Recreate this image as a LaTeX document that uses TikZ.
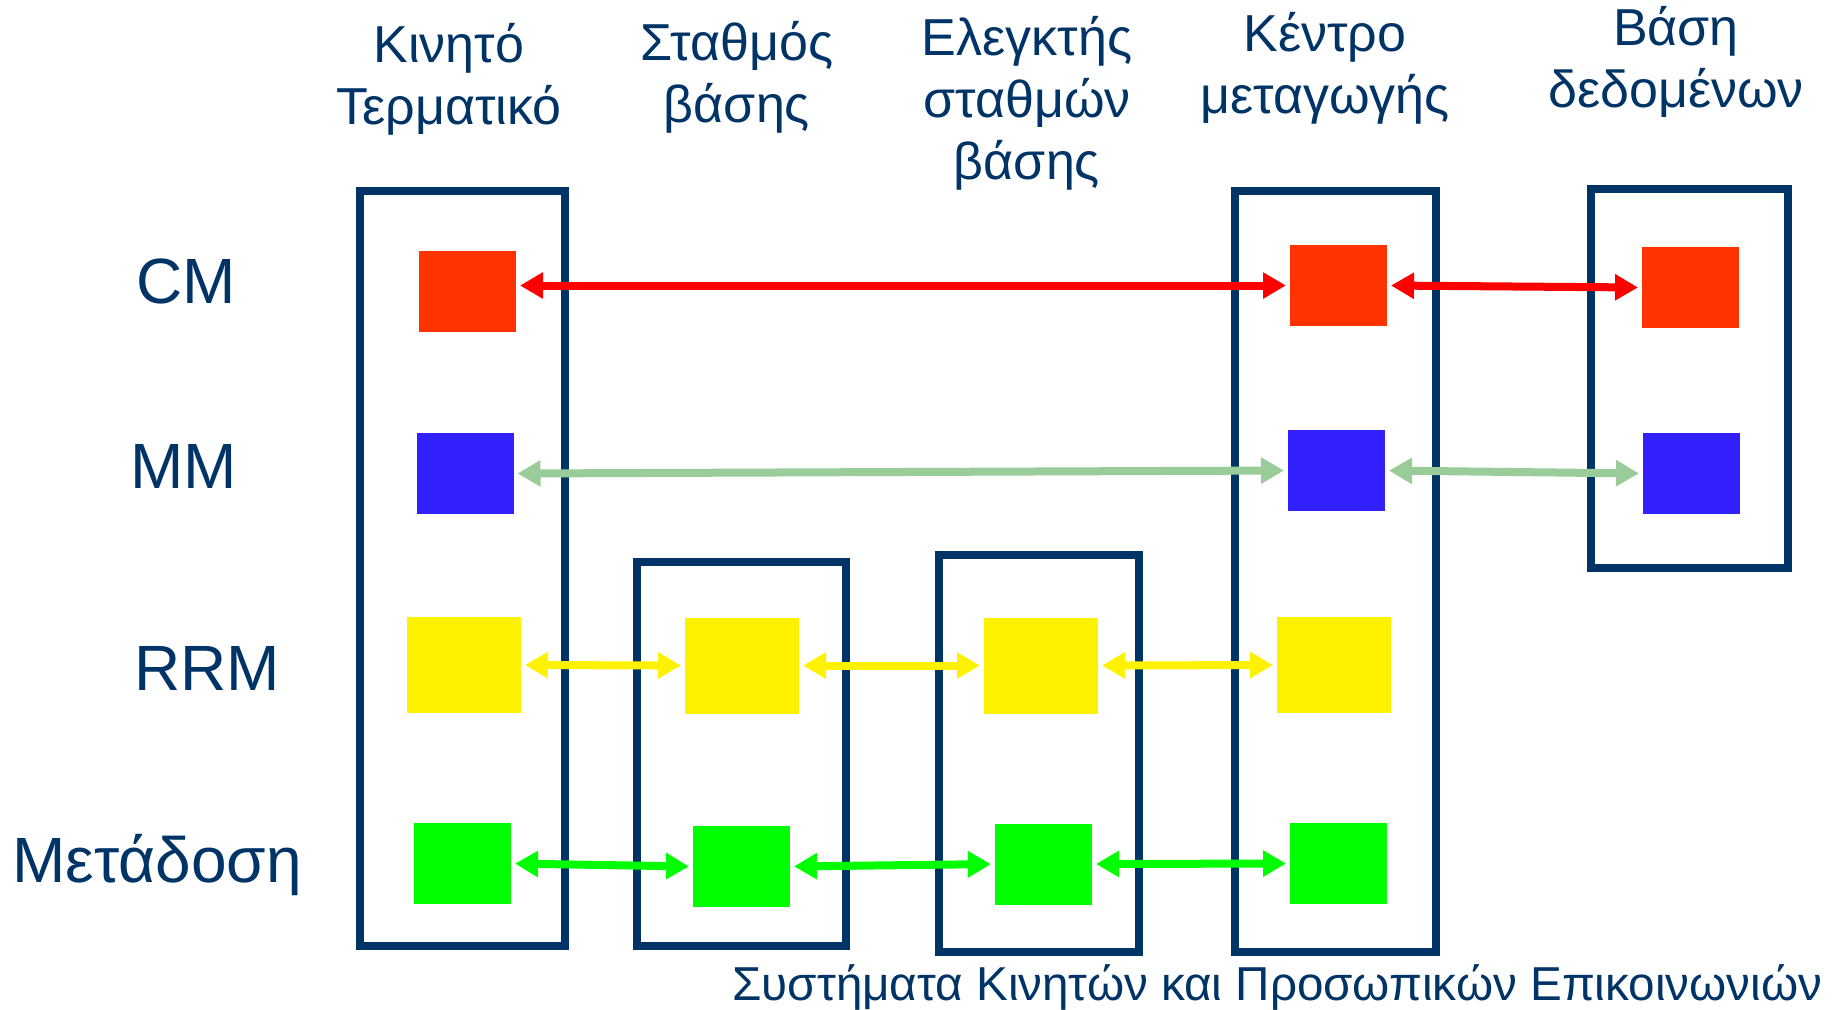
\documentclass[tikz,border=0pt]{standalone}
\usepackage{fontspec}
\setmainfont{Liberation Sans}
\usetikzlibrary{arrows.meta}
\definecolor{navy}{RGB}{0,51,102}
\definecolor{cmred}{RGB}{255,51,0}
\definecolor{mmblue}{RGB}{51,32,255}
\definecolor{mmarrow}{RGB}{153,204,153}
\tikzset{
	blk/.style={inner sep=0pt, outer sep=0pt, minimum width=48.5pt, minimum height=40.5pt},
	blkY/.style={blk, minimum width=57pt, minimum height=48pt, fill=yellow},
	frame/.style={draw=navy, line width=4pt},
	lnk/.style={<->, line width=4pt, shorten <=2pt, shorten >=2pt},
	head/.style={align=center, anchor=north, inner sep=0pt, font=\fontsize{26}{31}\selectfont},
	rowlbl/.style={anchor=base west, inner sep=0pt, font=\fontsize{32}{38}\selectfont}
}
\begin{document}
\begin{tikzpicture}[x=0.5pt, y=-0.5pt, text=navy, >={Triangle[length=11.5pt,width=12.5pt]}]
	\useasboundingbox (0,0) rectangle (1839,1009);
	\draw[frame] (360,191) rectangle (565,946);
	\draw[frame] (637,562) rectangle (846,946);
	\draw[frame] (939,555) rectangle (1139,952);
	\draw[frame] (1235,191) rectangle (1436,952);
	\draw[frame] (1591,189) rectangle (1788,568);
	\path
	(467.5,291.5) node[blk, fill=cmred] (msR) {}		(465,473.5) node[blk, fill=mmblue] (msB) {}
	(464,665) node[blkY] (msY) {}						(462.5,863.5) node[blk, fill=green] (msG) {}
	(742,665.5) node[blkY] (bsY) {}					(741.5,866.5) node[blk, fill=green] (bsG) {}
	(1041,665.5) node[blkY] (bscY) {}					(1043.5,864) node[blk, fill=green] (bscG) {}
	(1338.5,285.5) node[blk, fill=cmred] (mscR) {}	(1336.5,470.5) node[blk, fill=mmblue] (mscB) {}
	(1334,665) node[blkY] (mscY) {}					(1338.5,863.5) node[blk, fill=green] (mscG) {}
	(1690.5,287.5) node[blk, fill=cmred] (dbR) {}		(1691.5,473.5) node[blk, fill=mmblue] (dbB) {}
	;
	\draw[lnk, red] (msR.east |- mscR.west) -- (mscR.west);
	\draw[lnk, red] (mscR.east) -- (dbR.west);
	\draw[lnk, mmarrow] (msB.east) -- (mscB.west);
	\draw[lnk, mmarrow] (mscB.east) -- (dbB.west);
	\draw[lnk, yellow] (msY.east) -- (bsY.west);
	\draw[lnk, yellow] (bsY.east) -- (bscY.west);
	\draw[lnk, yellow] (bscY.east) -- (mscY.west);
	\draw[lnk, green] (msG.east) -- (bsG.west);
	\draw[lnk, green] (bsG.east) -- (bscG.west);
	\draw[lnk, green] (bscG.east) -- (mscG.west);
	\path
	(449,23) node[head] (hMS) {Κινητό\\Τερματικό}
	(737,21) node[head] (hBS) {Σταθμός\\βάσης}
	(1027,16) node[head] (hBSC) {Ελεγκτής\\σταθμών\\βάσης}
	(1325,12) node[head] (hMSC) {Κέντρο\\μεταγωγής}
	(1676,6) node[head] (hDB) {Βάση\\δεδομένων}
	(136,303) node[rowlbl] (lCM) {CM}
	(130,488) node[rowlbl] (lMM) {MM}
	(134,690) node[rowlbl] (lRRM) {RRM}
	(12,882) node[rowlbl] (lTx) {Μετάδοση}
	(732,1000) node[anchor=base west, inner sep=0pt, font=\fontsize{23.8}{29}\selectfont] (foot) {Συστήματα Κινητών και Προσωπικών Επικοινωνιών}
	;
\end{tikzpicture}
\end{document}
